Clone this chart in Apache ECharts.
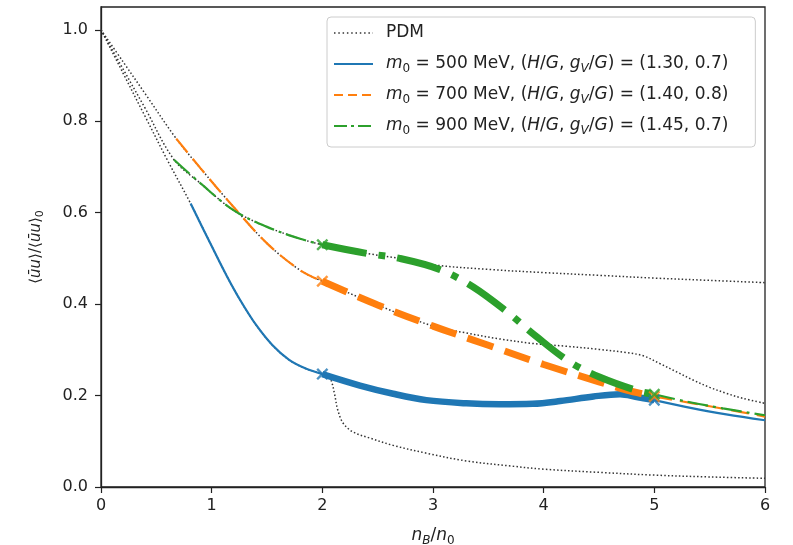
<!DOCTYPE html>
<html>
<head>
<meta charset="utf-8">
<script src="https://cdn.jsdelivr.net/npm/echarts@6/dist/echarts.min.js"></script>
<style>
html,body{margin:0;padding:0;background:#fff;}
#chart{width:793px;height:545px;}
</style>
</head>
<body>
<div id="chart"></div>
<script>
// ---- data ----
const xTicks = [0, 1, 2, 3, 4, 5, 6];
const yTicks = [0.0, 0.2, 0.4, 0.6, 0.8, 1.0];

// PDM curves (dotted)
const pdmAX = [0, 0.2, 0.4, 0.6, 0.81, 1.0, 1.14, 1.26, 1.4, 1.55, 1.7, 1.85, 2.0, 2.05, 2.08, 2.11, 2.14, 2.19, 2.28, 2.43, 2.64, 2.94, 3.3, 3.7, 4.0, 4.5, 5.0, 5.5, 6.0];
const pdmAY = [1.0, 0.905, 0.81, 0.715, 0.62, 0.527, 0.46, 0.408, 0.355, 0.31, 0.278, 0.259, 0.247, 0.243, 0.233, 0.204, 0.168, 0.139, 0.12, 0.107, 0.091, 0.074, 0.057, 0.046, 0.039, 0.032, 0.026, 0.022, 0.019];

const pdmBX = [0, 0.2, 0.4, 0.66, 0.9, 1.2, 1.5, 1.8, 2.0, 2.4, 2.7, 3.0, 3.5, 4.0, 4.5, 5.0, 5.5, 6.0];
const pdmBY = [1.0, 0.914, 0.828, 0.716, 0.664, 0.605, 0.569, 0.543, 0.53, 0.511, 0.50, 0.486, 0.476, 0.469, 0.463, 0.457, 0.452, 0.447];

const pdmCX = [0, 0.2, 0.4, 0.68, 0.9, 1.2, 1.5, 1.8, 2.0, 2.5, 3.0, 3.3, 3.6, 3.9, 4.2, 4.5, 4.75, 4.9, 5.05, 5.2, 5.35, 5.5, 5.65, 5.8, 6.0];
const pdmCY = [1.0, 0.93, 0.86, 0.762, 0.697, 0.612, 0.533, 0.474, 0.45, 0.398, 0.352, 0.337, 0.324, 0.314, 0.308, 0.301, 0.294, 0.287, 0.27, 0.252, 0.234, 0.218, 0.205, 0.194, 0.183];

// m0 = 500 MeV (blue)
const b1X = [0.81, 1.0, 1.14, 1.26, 1.4, 1.55, 1.7, 1.85, 2.0];
const b1Y = [0.62, 0.527, 0.46, 0.408, 0.355, 0.31, 0.278, 0.259, 0.247];
const b2X = [2.0, 2.34, 2.64, 2.94, 3.3, 3.6, 3.9, 4.15, 4.45, 4.69, 4.84, 5.0];
const b2Y = [0.247, 0.222, 0.204, 0.19, 0.183, 0.181, 0.182, 0.188, 0.198, 0.203, 0.197, 0.19];
const b3X = [5.0, 5.35, 5.65, 6.0];
const b3Y = [0.19, 0.172, 0.159, 0.146];
const bMarkX = [2, 5];
const bMarkY = [0.247, 0.19];

// m0 = 700 MeV (orange)
const o1X = [0.68, 0.9, 1.2, 1.5, 1.8, 2.0];
const o1Y = [0.762, 0.697, 0.612, 0.533, 0.474, 0.45];
const o2X = [2.0, 2.5, 3.0, 3.5, 4.0, 4.5, 4.75, 5.0];
const o2Y = [0.45, 0.398, 0.352, 0.31, 0.268, 0.23, 0.212, 0.198];
const o3X = [5.0, 5.35, 5.65, 6.0];
const o3Y = [0.198, 0.183, 0.17, 0.154];
const oMarkX = [2, 5];
const oMarkY = [0.45, 0.198];

// m0 = 900 MeV (green)
const g1X = [0.66, 0.9, 1.2, 1.5, 1.8, 2.0];
const g1Y = [0.716, 0.664, 0.605, 0.569, 0.543, 0.53];
const g2X = [2.0, 2.4, 2.7, 3.06, 3.36, 3.67, 3.94, 4.24, 4.51, 4.87, 5.0];
const g2Y = [0.53, 0.511, 0.50, 0.476, 0.438, 0.383, 0.328, 0.273, 0.24, 0.209, 0.203];
const g3X = [5.0, 5.28, 5.62, 6.0];
const g3Y = [0.203, 0.1875, 0.172, 0.157];
const gMarkX = [2, 5];
const gMarkY = [0.53, 0.203];

// ---- chart ----
const FONT = 'DejaVu Sans';
const BLUE = '#1f77b4', ORANGE = '#ff7f0e', GREEN = '#2ca02c', DOT = '#333333';
const XPATH = 'path://M0,1.4L1.4,0L5,3.6L8.6,0L10,1.4L6.4,5L10,8.6L8.6,10L5,6.4L1.4,10L0,8.6L3.6,5Z';

function pts(xs, ys) { return xs.map((x, i) => [x, ys[i]]); }

function lineSeries(name, xs, ys, color, width, type, z) {
  return {
    type: 'line', name: name, data: pts(xs, ys),
    smooth: 0.35,
    symbol: 'none', showSymbol: false, silent: true, z: z,
    lineStyle: { color: color, width: width, type: type, cap: 'butt' },
    itemStyle: { color: color },
    emphasis: { disabled: true }
  };
}
function markSeries(xs, ys, color) {
  return {
    type: 'scatter', data: pts(xs, ys), symbol: XPATH, symbolSize: 12,
    itemStyle: { color: color }, z: 10, silent: true
  };
}

const DOTTED = [1.5, 2.2];
const rich = {
  i: { fontFamily: FONT, fontSize: 17, fontStyle: 'italic', color: '#222', lineHeight: 22 },
  s: { fontFamily: FONT, fontSize: 12, color: '#222', lineHeight: 12, verticalAlign: 'bottom' },
  si: { fontFamily: FONT, fontSize: 12, fontStyle: 'italic', color: '#222', lineHeight: 12, verticalAlign: 'bottom' }
};
const legendText = {
  'PDM': 'PDM',
  'm500': '{i|m}{s|0} = 500 MeV, ({i|H}/{i|G}, {i|g}{si|V}/{i|G}) = (1.30, 0.7)',
  'm700': '{i|m}{s|0} = 700 MeV, ({i|H}/{i|G}, {i|g}{si|V}/{i|G}) = (1.40, 0.8)',
  'm900': '{i|m}{s|0} = 900 MeV, ({i|H}/{i|G}, {i|g}{si|V}/{i|G}) = (1.45, 0.7)'
};

const chart = echarts.init(document.getElementById('chart'), null, { renderer: 'canvas' });
chart.setOption({
  animation: false,
  backgroundColor: '#fff',
  grid: { left: 101, right: 28, top: 7, bottom: 58, containLabel: false, outerBoundsMode: 'none',
          show: true, borderColor: '#222', borderWidth: 1.3, backgroundColor: 'transparent' },
  legend: {
    orient: 'vertical', left: 327, top: 17,
    padding: [5, 27, 10, 6],
    itemWidth: 39, itemHeight: 14, itemGap: 9,
    backgroundColor: 'rgba(255,255,255,0.85)', borderColor: '#cccccc', borderWidth: 1, borderRadius: 4,
    selectedMode: false,
    itemStyle: { opacity: 0 },
    textStyle: { fontFamily: FONT, fontSize: 17, color: '#222', lineHeight: 22, padding: [0, 0, 0, 8], rich: rich },
    formatter: function (n) { return legendText[n]; },
    data: [
      { name: 'PDM', itemStyle: { opacity: 0 }, lineStyle: { type: [1.5, 2.8], width: 1.5, color: DOT } },
      { name: 'm500', itemStyle: { opacity: 0 }, lineStyle: { type: 'solid', width: 2, color: BLUE } },
      { name: 'm700', itemStyle: { opacity: 0 }, lineStyle: { type: [9, 5], width: 2, color: ORANGE } },
      { name: 'm900', itemStyle: { opacity: 0 }, lineStyle: { type: [13, 4, 3, 4], width: 2, color: GREEN } }
    ]
  },
  xAxis: {
    type: 'value', min: 0, max: 6, interval: 1,
    name: '{i|n}{si|B}/{i|n}{s|0}', nameLocation: 'middle', nameGap: 38,
    nameTextStyle: { fontFamily: FONT, fontSize: 17, color: '#222', rich: rich },
    axisLine: { show: true, onZero: false, lineStyle: { color: '#222', width: 1.3 } },
    axisTick: { show: true, inside: false, length: 6, lineStyle: { color: '#222', width: 1.2 }, customValues: xTicks },
    axisLabel: { show: true, margin: 11, fontFamily: FONT, fontSize: 16, color: '#222', customValues: xTicks, formatter: v => String(v) },
    splitLine: { show: false }
  },
  yAxis: {
    type: 'value', min: 0, max: 1.05,
    name: '⟨{i|ūu}⟩/⟨{i|ūu}⟩{s|0}', nameLocation: 'middle', nameRotate: 90, nameGap: 55,
    nameTextStyle: { fontFamily: FONT, fontSize: 15, color: '#222', rich: {
      i: { fontFamily: FONT, fontSize: 15, fontStyle: 'italic', color: '#222', lineHeight: 20 },
      s: { fontFamily: FONT, fontSize: 11, color: '#222', lineHeight: 11, verticalAlign: 'bottom' }
    } },
    axisLine: { show: true, onZero: false, lineStyle: { color: '#222', width: 1.3 } },
    axisTick: { show: true, inside: false, length: 6, lineStyle: { color: '#222', width: 1.2 }, customValues: yTicks },
    axisLabel: { show: true, margin: 13, fontFamily: FONT, fontSize: 16, color: '#222', customValues: yTicks, formatter: v => v.toFixed(1) },
    splitLine: { show: false }
  },
  series: [
    lineSeries('PDM', pdmAX, pdmAY, DOT, 1.5, DOTTED, 1),
    lineSeries('PDM', pdmBX, pdmBY, DOT, 1.5, DOTTED, 1),
    lineSeries('PDM', pdmCX, pdmCY, DOT, 1.5, DOTTED, 1),
    lineSeries('m500', b1X, b1Y, BLUE, 2.2, 'solid', 3),
    lineSeries('m500', b2X, b2Y, BLUE, 6.5, 'solid', 3),
    lineSeries('m500', b3X, b3Y, BLUE, 2.2, 'solid', 3),
    lineSeries('m700', o1X, o1Y, ORANGE, 2.2, [18, 8], 4),
    lineSeries('m700', o2X, o2Y, ORANGE, 7, [27, 12], 4),
    lineSeries('m700', o3X, o3Y, ORANGE, 2.2, [18, 8], 4),
    lineSeries('m900', g1X, g1Y, GREEN, 2.2, [21, 5, 3, 5], 5),
    lineSeries('m900', g2X, g2Y, GREEN, 7, [45, 12, 7, 12], 5),
    lineSeries('m900', g3X, g3Y, GREEN, 2.2, [21, 5, 3, 5], 5),
    markSeries(bMarkX, bMarkY, BLUE),
    markSeries(oMarkX, oMarkY, ORANGE),
    markSeries(gMarkX, gMarkY, GREEN)
  ]
});
</script>
</body>
</html>
